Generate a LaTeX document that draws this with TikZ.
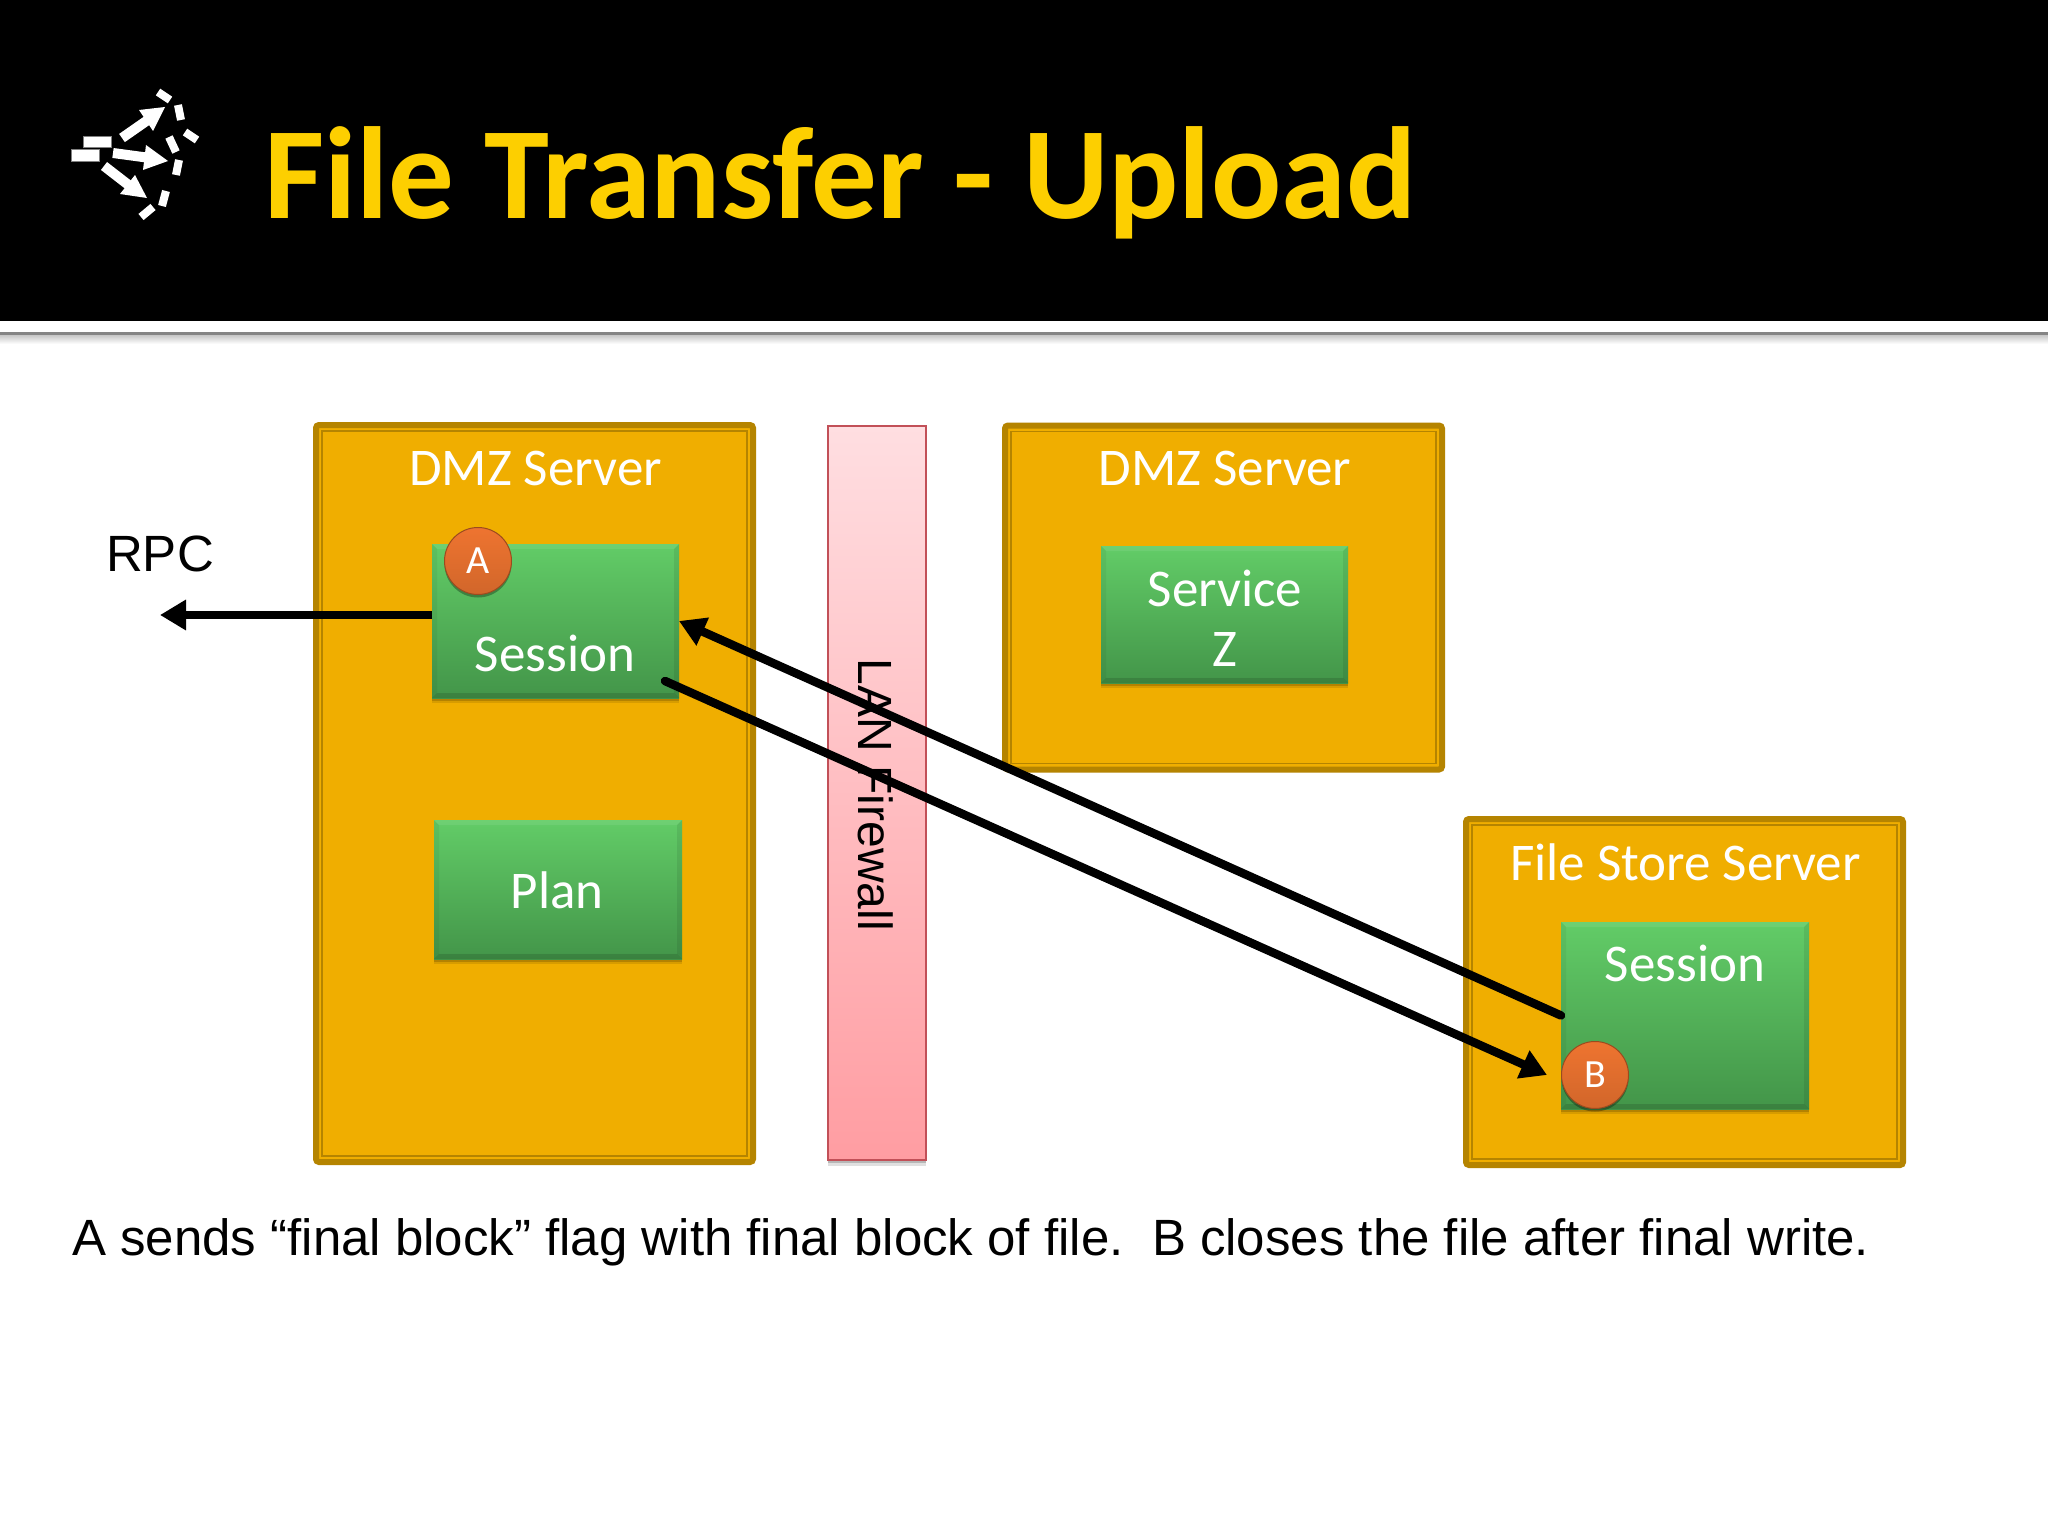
\documentclass[tikz,border=0pt]{standalone}
\usepackage{fontspec}
\setmainfont{Liberation Sans}
\newfontfamily\slidefont{Carlito}
\usetikzlibrary{arrows.meta,shadows,calc}
\definecolor{boxfill}{HTML}{F0AE00}
\definecolor{boxedge}{HTML}{B58400}
\definecolor{titlegold}{HTML}{FDCF00}
\definecolor{greentop}{HTML}{62CC67}
\definecolor{greenbot}{HTML}{439549}
\definecolor{ballfill}{HTML}{EE7430}
\definecolor{walledge}{HTML}{C25058}
\definecolor{walltop}{HTML}{FFDEE1}
\definecolor{wallbot}{HTML}{FF9DA2}
\newcommand{\fsz}[1]{\fontsize{#1}{#1}\selectfont}
\tikzset{
  x=1pt,y=-1pt,
  softshadow/.style={
    drop shadow={shadow xshift=0pt,shadow yshift=-5pt,opacity=.10,fill=black},
    drop shadow={shadow xshift=0pt,shadow yshift=-3pt,opacity=.16,fill=black}},
  serverbox/.style={draw=boxedge,fill=boxfill,line width=6pt,rounded corners=3pt,inner sep=0pt,outer sep=0pt},
  innerline/.style={draw=boxedge,line width=1.6pt},
  greenbox/.style={top color=greentop,bottom color=greenbot,inner sep=0pt,outer sep=0pt,softshadow,
    path picture={
      \coordinate (pnw) at (path picture bounding box.north west);
      \coordinate (pne) at (path picture bounding box.north east);
      \coordinate (psw) at (path picture bounding box.south west);
      \coordinate (pse) at (path picture bounding box.south east);
      \fill[white,opacity=.08] (pnw) -- (pne) -- ([shift={(-5,5)}]pne) -- ([shift={(5,5)}]pnw) -- cycle;
      \fill[black,opacity=.13] (psw) -- (pse) -- ([shift={(-5,-5)}]pse) -- ([shift={(5,-5)}]psw) -- cycle;
      \fill[black,opacity=.08] (pne) -- (pse) -- ([shift={(-5,-5)}]pse) -- ([shift={(-5,5)}]pne) -- cycle;
      \fill[black,opacity=.05] (pnw) -- (psw) -- ([shift={(5,-5)}]psw) -- ([shift={(5,5)}]pnw) -- cycle;
    }},
  ball/.style={circle,minimum size=67pt,inner sep=0pt,top color=ballfill,bottom color=ballfill!88!black,draw=ballfill!65!black,line width=1pt,
    text=white,font=\slidefont\fsz{40},drop shadow={shadow xshift=0pt,shadow yshift=-3pt,opacity=.3,fill=black}},
  boxtext/.style={text=white,font=\slidefont\fsz{53},inner sep=0pt},
  bodytext/.style={text=black,font=\fsz{51},inner sep=0pt},
  flow/.style={draw=black,line width=8.5pt,-{Triangle[length=26pt,width=29pt]}},
  icondash/.style={draw=white,line width=8pt},
  iconshaft/.style={draw=white,line width=10pt},
}
\begin{document}
\begin{tikzpicture}
\useasboundingbox (0,0) rectangle (2048,1536);
\fill[white] (0,0) rectangle (2048,1536);
% header
\fill[black] (0,0) rectangle (2048,321);
\fill[black!48] (0,332) rectangle (2048,335);
\shade[top color=black!22,bottom color=white] (0,335) rectangle (2048,344);
% icon
\draw[fill=white,draw=black!50,line width=.6pt] (83,136) rectangle (111,147);
\draw[fill=white,draw=black!50,line width=.6pt] (71,149) rectangle (99,161);
\draw[iconshaft] (122,138) -- (155,115);
\fill[white] (139,110) -- (165,107) -- (153,131) -- cycle;
\draw[iconshaft] (113,153) -- (150,158);
\fill[white] (146,145) -- (168,161) -- (143,170) -- cycle;
\draw[iconshaft] (104,166) -- (135,190);
\fill[white] (135,175) -- (147,198) -- (120,194) -- cycle;
\draw[icondash] (158,92) -- (170,100);
\draw[icondash] (178,105) -- (181,120);
\draw[icondash] (185,132) -- (197,140);
\draw[icondash] (169,137) -- (176,152);
\draw[icondash] (179,160) -- (176,175);
\draw[icondash] (166,191) -- (162,206);
\draw[icondash] (153,207) -- (141,217);
% title
\node[anchor=base west,inner sep=0pt,text=titlegold,font=\slidefont\bfseries\fsz{131}] (title) at (264,218) {File Transfer - Upload};
% servers
\node[serverbox,minimum width=437pt,minimum height=737pt] (dmzA) at (534.5,793.5) {};
\draw[innerline] ([shift={(6,6)}]dmzA.north west) rectangle ([shift={(-6,-6)}]dmzA.south east);
\node[boxtext] (dmzAlabel) at (535.5,468) {DMZ Server};
\node[serverbox,minimum width=437pt,minimum height=344pt] (dmzB) at (1223.5,597.5) {};
\draw[innerline] ([shift={(6,6)}]dmzB.north west) rectangle ([shift={(-6,-6)}]dmzB.south east);
\node[boxtext] (dmzBlabel) at (1225,468) {DMZ Server};
\node[serverbox,minimum width=437pt,minimum height=346pt] (store) at (1684.5,992) {};
\draw[innerline] ([shift={(6,6)}]store.north west) rectangle ([shift={(-6,-6)}]store.south east);
\node[boxtext] (storelabel) at (1685.5,862) {File Store Server};
% firewall
\node[draw=walledge,line width=2pt,top color=walltop,bottom color=wallbot,minimum width=98pt,minimum height=734pt,inner sep=0pt,outer sep=0pt,
  drop shadow={shadow xshift=0pt,shadow yshift=-6pt,opacity=.12,fill=black},
  drop shadow={shadow xshift=0pt,shadow yshift=-3pt,opacity=.18,fill=black}] (wall) at (876.5,793) {};
\node[bodytext,font=\fsz{48},rotate=-90] (walllabel) at (876,795) {LAN Firewall};
% sessions
\node[greenbox,minimum width=247pt,minimum height=154pt] (sessA) at (555.5,621) {};
\node[boxtext] (sessAlabel) at (555,653) {Session};
\node[greenbox,minimum width=248pt,minimum height=139pt] (plan) at (558,889.5) {};
\node[boxtext] (planlabel) at (557,890) {Plan};
\node[greenbox,minimum width=247pt,minimum height=137pt] (svc) at (1224.5,614.5) {};
\node[boxtext,align=center] (svclabel) at (1225,618) {Service\\[7pt]Z};
\node[greenbox,minimum width=248pt,minimum height=187pt] (sessB) at (1685,1015.5) {};
\node[boxtext] (sessBlabel) at (1685,963) {Session};
\node[ball] (a) at (478,561) {A};
\node[ball] (b) at (1595,1075) {B};
% connectors
\coordinate (rpcend) at (160,615);
\coordinate (outstart) at (665,681);
\coordinate (outend) at (1547,1075);
\draw[flow] (rpcend -| sessA.west) -- (rpcend);
\draw[flow,line cap=round] (sessB.west) -- (sessA.east);
\draw[flow,line cap=round] (outstart) -- (outend);
% text
\node[bodytext] (rpc) at (160,554) {RPC};
\node[bodytext,anchor=base west] (note) at (72,1255) {A sends “final block” flag with final block of file.\ \ B closes the file after final write.};
\end{tikzpicture}
\end{document}
